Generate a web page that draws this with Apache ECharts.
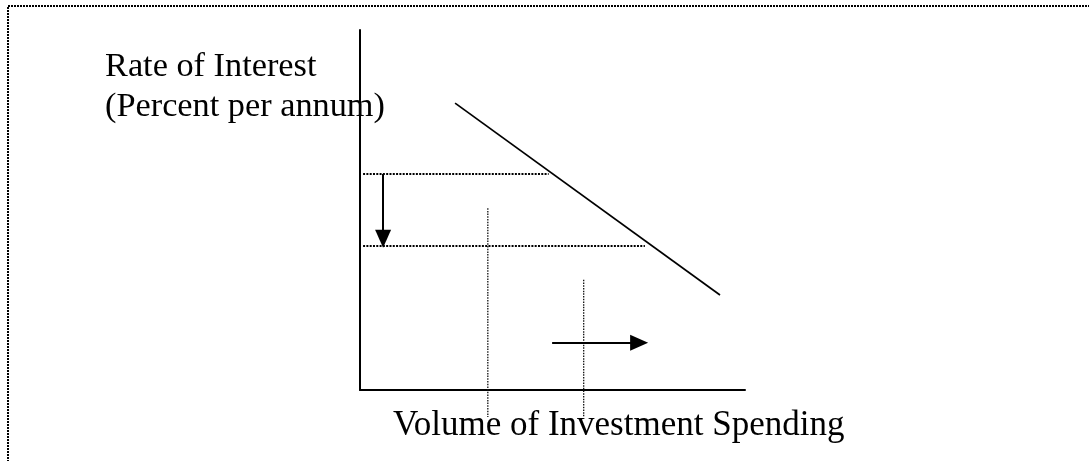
<!DOCTYPE html>
<html lang="en">
<head>
  <meta charset="utf-8" />
  <title>Investment demand</title>
  <script src="https://cdn.jsdelivr.net/npm/echarts@6/dist/echarts.min.js"></script>
  <style>
    html, body { margin: 0; padding: 0; background: #fff; }
  </style>
</head>
<body>
  <div id="main" style="width: 1089px;height:461px;"></div>
  <script type="text/javascript">
    // diagram units: origin at the axes corner, both axes run 0..100
    const demandX = [24.7, 93.5];
    const demandY = [79.7, 26.4];
    // interest rates: before and after the fall, and where each dotted guide stops
    const rateLevels = [60, 40];
    const rateGuideEnd = [49, 74];
    // investment volumes: before and after, dotted guides from top to below the axis
    const volumeLevels = [33.2, 58.1];
    const volumeGuideTop = [50.5, 30.6];
    const volumeGuideBottom = -7.5;
    // arrows: [fromX, fromY, toX, toY]
    const rateArrow = [6, 60, 6, 42];
    const volumeArrow = [49.9, 13.1, 72.5, 13.1];

    const yTitle = ['Rate of Interest', '(Percent per annum)'];
    const xTitle = 'Volume of Investment Spending';

    var myChart = echarts.init(document.getElementById('main'));

    const seriesList = [];
    seriesList.push({
      type: 'line',
      data: demandX.map(function (x, i) { return [x, demandY[i]]; }),
      showSymbol: false,
      clip: false,
      lineStyle: { color: '#000', width: 1.7 }
    });
    rateLevels.forEach(function (r, i) {
      seriesList.push({
        type: 'line',
        data: [[0.8, r], [rateGuideEnd[i], r]],
        showSymbol: false,
        clip: false,
        lineStyle: { color: '#000', width: 2, type: [2, 1.3] }
      });
    });
    volumeLevels.forEach(function (v, i) {
      seriesList.push({
        type: 'line',
        data: [[v, volumeGuideTop[i]], [v, volumeGuideBottom]],
        showSymbol: false,
        clip: false,
        lineStyle: { color: '#111', width: 1.3, type: [1.5, 1.2] }
      });
    });
    // arrows drawn as mark lines with a triangle head
    seriesList.push({
      type: 'line',
      data: [],
      markLine: {
        silent: true,
        animation: false,
        symbol: ['none', 'triangle'],
        symbolSize: [16, 18],
        label: { show: false },
        lineStyle: { color: '#000', width: 2, type: 'solid' },
        data: [
          [{ coord: [rateArrow[0], rateArrow[1]] }, { coord: [rateArrow[2], rateArrow[3]] }],
          [{ coord: [volumeArrow[0], volumeArrow[1]] }, { coord: [volumeArrow[2], volumeArrow[3]] }]
        ]
      }
    });

    option = {
      animation: false,
      backgroundColor: '#fff',
      grid: { left: 360, right: 344, top: 30, bottom: 71 },
      xAxis: {
        type: 'value',
        min: 0,
        max: 100,
        axisLine: { lineStyle: { color: '#000', width: 2 } },
        axisTick: { show: false },
        axisLabel: { show: false },
        splitLine: { show: false }
      },
      yAxis: {
        type: 'value',
        min: 0,
        max: 100,
        axisLine: { show: true, lineStyle: { color: '#000', width: 2 } },
        axisTick: { show: false },
        axisLabel: { show: false },
        splitLine: { show: false }
      },
      graphic: [
        {
          type: 'rect',
          shape: { x: 8, y: 6, width: 1200, height: 600 },
          style: { fill: 'none', stroke: '#000', lineWidth: 2, lineDash: [2, 1] },
          silent: true
        },
        {
          type: 'text',
          left: 105,
          top: 50,
          style: { text: yTitle[0], font: '34.3px "Liberation Serif", "DejaVu Serif", serif', fill: '#000' }
        },
        {
          type: 'text',
          left: 105,
          top: 90,
          style: { text: yTitle[1], font: '34.3px "Liberation Serif", "DejaVu Serif", serif', fill: '#000' }
        },
        {
          type: 'text',
          left: 393,
          top: 408,
          style: { text: xTitle, font: '35px "Liberation Serif", "DejaVu Serif", serif', fill: '#000' }
        }
      ],
      series: seriesList
    };
    myChart.setOption(option);
  </script>
</body>
</html>
